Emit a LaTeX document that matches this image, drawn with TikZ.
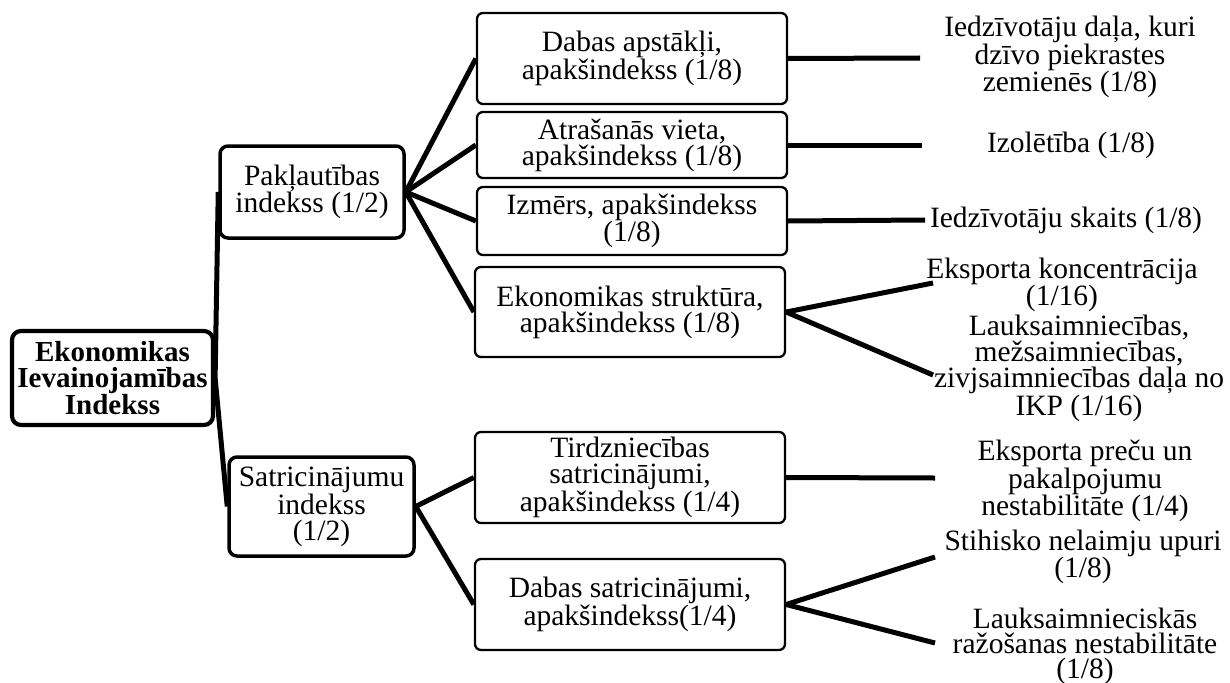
\documentclass[tikz,border=0pt]{standalone}
\usepackage{fontspec}
\setmainfont{Liberation Serif}
\usetikzlibrary{backgrounds}
\tikzset{
  bx/.style={draw, fill=white, rounded corners=6pt, line width=2.3pt, inner sep=0pt,
    align=center, minimum width=310pt, font=\fontsize{29.5}{26}\selectfont},
  midbx/.style={bx, line width=3.5pt, rounded corners=8pt},
  rootbx/.style={bx, line width=4.2pt, rounded corners=9pt,
    font=\fontsize{29}{26.7}\selectfont\bfseries},
  lbl/.style={align=center, inner sep=0pt, font=\fontsize{29.5}{25}\selectfont},
  conn/.style={line width=5pt},
}
\begin{document}
\begin{tikzpicture}[x=1pt,y=-1pt]
\useasboundingbox (0,0) rectangle (1230,682);

% root and level 1
\node[rootbx, minimum width=201pt, minimum height=94pt] (root) at (112.5,378) {Ekonomikas\\Ievainojamības\\Indekss};
\node[midbx, minimum width=184pt, minimum height=92pt] (pak) at (312,192) {Pakļautības\\indekss (1/2)};
\node[midbx, minimum width=185pt, minimum height=99pt] (sat) at (321.5,506.5) {Satricinājumu\\indekss\\(1/2)};

% level 2
\node[bx, minimum height=91pt] (d1) at (632,58.5) {Dabas apstākļi,\\apakšindekss (1/8)};
\node[bx, minimum height=66pt] (d2) at (632,145) {Atrašanās vieta,\\apakšindekss (1/8)};
\node[bx, minimum height=68pt] (d3) at (632,221) {Izmērs, apakšindekss\\(1/8)};
\node[bx, minimum height=90pt] (d4) at (630,312) {Ekonomikas struktūra,\\apakšindekss (1/8)};
\node[bx, minimum height=91pt] (d5) at (630,477.5) {Tirdzniecības\\satricinājumi,\\apakšindekss (1/4)};
\node[bx, minimum height=91pt] (d6) at (630,604.5) {Dabas satricinājumi,\\apakšindekss(1/4)};

% level 3 labels
\node[lbl] (l1) at (1070,57) {Iedzīvotāju daļa, kuri\\dzīvo piekrastes\\zemienēs (1/8)};
\node[lbl] (l2) at (1071,145) {Izolētība (1/8)};
\node[lbl] (l3) at (1066,220) {Iedzīvotāju skaits (1/8)};
\node[lbl] (l4) at (1062,285) {Eksporta koncentrācija\\(1/16)};
\node[lbl] (l5) at (1079,368) {Lauksaimniecības,\\mežsaimniecības,\\zivjsaimniecības daļa no\\IKP (1/16)};
\node[lbl] (l6) at (1085,481) {Eksporta preču un\\pakalpojumu\\nestabilitāte (1/4)};
\node[lbl] (l7) at (1083,557) {Stihisko nelaimju upuri\\(1/8)};
\node[lbl] (l8) at (1085,646) {Lauksaimnieciskās\\ražošanas nestabilitāte\\(1/8)};

% free ends of the level-3 connectors
\coordinate (c1) at (920,58);
\coordinate (c2) at (922,145);
\coordinate (c3) at (925,220);
\coordinate (c4a) at (933,283);
\coordinate (c4b) at (933,375);
\coordinate (c5) at (935,478);
\coordinate (c6a) at (935,557);
\coordinate (c6b) at (935,643);

\begin{scope}[on background layer]
  \draw[conn] (root.east) -- (pak.west);
  \draw[conn] (root.east) -- (sat.west);
  \draw[conn] (pak.east) -- (d1.west);
  \draw[conn] (pak.east) -- (d2.west);
  \draw[conn] (pak.east) -- (d3.west);
  \draw[conn] (pak.east) -- (d4.west);
  \draw[conn] (sat.east) -- (d5.west);
  \draw[conn] (sat.east) -- (d6.west);
  \draw[conn] (d1.east) -- (c1);
  \draw[conn] (d2.east) -- (c2);
  \draw[conn] (d3.east) -- (c3);
  \draw[conn] (d4.east) -- (c4a);
  \draw[conn] (d4.east) -- (c4b);
  \draw[conn] (d5.east) -- (c5);
  \draw[conn] (d6.east) -- (c6a);
  \draw[conn] (d6.east) -- (c6b);
\end{scope}
\end{tikzpicture}
\end{document}
